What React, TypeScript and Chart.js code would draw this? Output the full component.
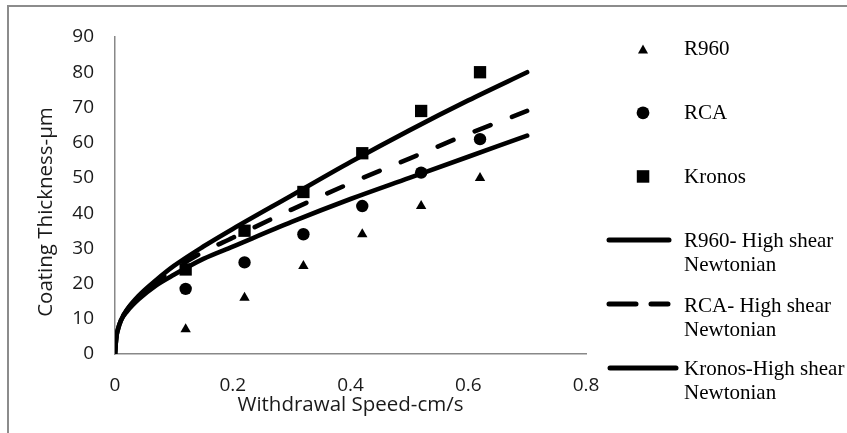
import { useEffect, useRef } from 'react';
import { Chart, registerables } from 'chart.js';

Chart.register(...registerables);

// Measured data (withdrawal speed, cm/s)
const speeds = [0.12, 0.22, 0.32, 0.42, 0.52, 0.62];
const r960 = [7, 16, 25, 34, 42, 50];
const rca = [18.5, 26, 34, 42, 51.5, 61];
const kronos = [24, 35, 46, 57, 69, 80];

// Model curves
const curveX = [0, 0.002, 0.005, 0.01, 0.02, 0.04, 0.07, 0.1, 0.15, 0.2, 0.3, 0.4, 0.5, 0.6, 0.7];
const r960HighShear = [0, 4.5, 7, 9.5, 12, 15.5, 19.5, 22.5, 27, 30.5, 37.5, 44, 50, 56, 62];
const rcaHighShear = [0, 4.5, 7, 9.5, 12.5, 16, 20.5, 24, 29, 33, 41, 48.5, 55.5, 62.5, 69];
const kronosHighShear = [0, 4.5, 7, 9.5, 12.5, 16.5, 21, 25, 30.5, 35.5, 45, 54.5, 63.5, 72, 80];

// Tick labels
const xTickValues = [0, 0.2, 0.4, 0.6, 0.8];
const xTickLabels = ['0', '0.2', '0.4', '0.6', '0.8'];
const yTickValues = [0, 10, 20, 30, 40, 50, 60, 70, 80, 90];
const yTickLabels = ['0', '10', '20', '30', '40', '50', '60', '70', '80', '90'];

const xTitle = 'Withdrawal Speed-cm/s';
const yTitle = 'Coating Thickness-µm';

const legendLabels = [
  ['R960'],
  ['RCA'],
  ['Kronos'],
  ['R960- High shear', 'Newtonian'],
  ['RCA- High shear', 'Newtonian'],
  ['Kronos-High shear', 'Newtonian'],
];

const TEXT = '#1a1a1a';
const AXIS = '#888888';
const SANS = '"Open Sans", sans-serif';

export default function App() {
  const ref = useRef<HTMLCanvasElement>(null);

  useEffect(() => {
    const pts = (ys: number[]) => speeds.map((x, i) => ({ x, y: ys[i] }));
    const curve = (ys: number[]) => curveX.map((x, i) => ({ x, y: ys[i] }));
    const marker = (label: string, data: any, style: string, r: number) => ({
      label,
      data,
      showLine: false,
      pointStyle: style,
      pointRadius: r,
      pointHoverRadius: r,
      backgroundColor: '#000',
      borderColor: '#000',
      borderWidth: 0,
    });
    const line = (label: string, data: any, dash: number[]) => ({
      label,
      data,
      showLine: true,
      pointRadius: 0,
      pointHoverRadius: 0,
      borderColor: '#000',
      backgroundColor: '#000',
      borderWidth: 4.6,
      borderDash: dash,
      borderCapStyle: 'round',
      borderJoinStyle: 'round',
      cubicInterpolationMode: 'monotone',
      fill: false,
    });

    const chart = new Chart(ref.current!, {
      type: 'scatter',
      data: {
        datasets: [
          marker('R960', pts(r960), 'triangle', 6),
          marker('RCA', pts(rca), 'circle', 6.2),
          marker('Kronos', pts(kronos), 'rect', 8.7),
          line('R960- High shear Newtonian', curve(r960HighShear), []),
          line('RCA- High shear Newtonian', curve(rcaHighShear), [17, 23]),
          line('Kronos-High shear Newtonian', curve(kronosHighShear), []),
        ] as any,
      },
      options: {
        responsive: false,
        maintainAspectRatio: false,
        animation: false,
        layout: { padding: { top: 37, right: 261, left: 0, bottom: 0 } },
        plugins: { legend: { display: false }, tooltip: { enabled: false } },
        scales: {
          x: {
            type: 'linear',
            min: 0,
            max: 0.8,
            grid: { display: false, drawTicks: false },
            border: { display: true, color: AXIS, width: 1.5 },
            afterBuildTicks: (s: any) => {
              s.ticks = xTickValues.map((v) => ({ value: v }));
            },
            afterFit: (s: any) => {
              s.height = 79;
            },
            ticks: {
              padding: 20,
              color: TEXT,
              font: { family: SANS, size: 19 },
              maxRotation: 0,
              autoSkip: false,
              callback: (_v: any, i: number) => xTickLabels[i],
            },
            title: {
              display: true,
              text: xTitle,
              color: TEXT,
              font: { family: SANS, size: 20.5 },
              padding: { top: 0, bottom: 16 },
            },
          },
          y: {
            type: 'linear',
            min: 0,
            max: 90,
            grid: { display: false, drawTicks: false },
            border: { display: true, color: AXIS, width: 1.5 },
            afterBuildTicks: (s: any) => {
              s.ticks = yTickValues.map((v) => ({ value: v }));
            },
            afterFit: (s: any) => {
              s.width = 115;
            },
            ticks: {
              padding: 21,
              color: TEXT,
              font: { family: SANS, size: 19 },
              autoSkip: false,
              callback: (_v: any, i: number) => yTickLabels[i],
            },
          },
        },
      } as any,
    });
    return () => chart.destroy();
  }, []);

  const textTops = [36, 100, 164, 228, 293, 356];

  return (
    <div
      style={{
        position: 'absolute',
        left: 0,
        top: 0,
        width: 847,
        height: 433,
        overflow: 'hidden',
        background: '#fff',
      }}
    >
      <div
        style={{
          position: 'absolute',
          left: 7,
          top: 5,
          width: 1000,
          height: 1000,
          borderLeft: '2px solid #8c8c8c',
          borderTop: '2px solid #8c8c8c',
        }}
      />
      <canvas
        ref={ref}
        width={847}
        height={433}
        style={{ position: 'absolute', left: 0, top: 0, width: 847, height: 433 }}
      />
      <div
        style={{
          position: 'absolute',
          left: 44 - 150,
          top: 212 - 12,
          width: 300,
          height: 24,
          lineHeight: '24px',
          textAlign: 'center',
          fontFamily: SANS,
          fontSize: 20.5,
          color: TEXT,
          transform: 'rotate(-90deg)',
          transformOrigin: '50% 50%',
          whiteSpace: 'nowrap',
        }}
      >
        {yTitle}
      </div>
      <svg
        width={847}
        height={433}
        style={{ position: 'absolute', left: 0, top: 0 }}
      >
        <polygon points="638,53.5 648,53.5 643,44.5" fill="#000" />
        <circle cx={643} cy={112.8} r={6.4} fill="#000" />
        <rect x={636.8} y={170.2} width={12.5} height={12.5} fill="#000" />
        <line x1={609} y1={240} x2={669} y2={240} stroke="#000" strokeWidth={5} strokeLinecap="round" />
        <line
          x1={609}
          y1={304}
          x2={668}
          y2={304}
          stroke="#000"
          strokeWidth={5}
          strokeLinecap="round"
          strokeDasharray="27 15"
        />
        <line x1={610} y1={368} x2={676} y2={368} stroke="#000" strokeWidth={5} strokeLinecap="round" />
      </svg>
      {legendLabels.map((lines, i) => (
        <div
          key={i}
          style={{
            position: 'absolute',
            left: 684,
            top: textTops[i],
            fontFamily: '"Liberation Serif", "Times New Roman", serif',
            fontSize: 21,
            lineHeight: '24px',
            color: '#000',
            whiteSpace: 'nowrap',
          }}
        >
          {lines.map((t, j) => (
            <div key={j}>{t}</div>
          ))}
        </div>
      ))}
    </div>
  );
}
